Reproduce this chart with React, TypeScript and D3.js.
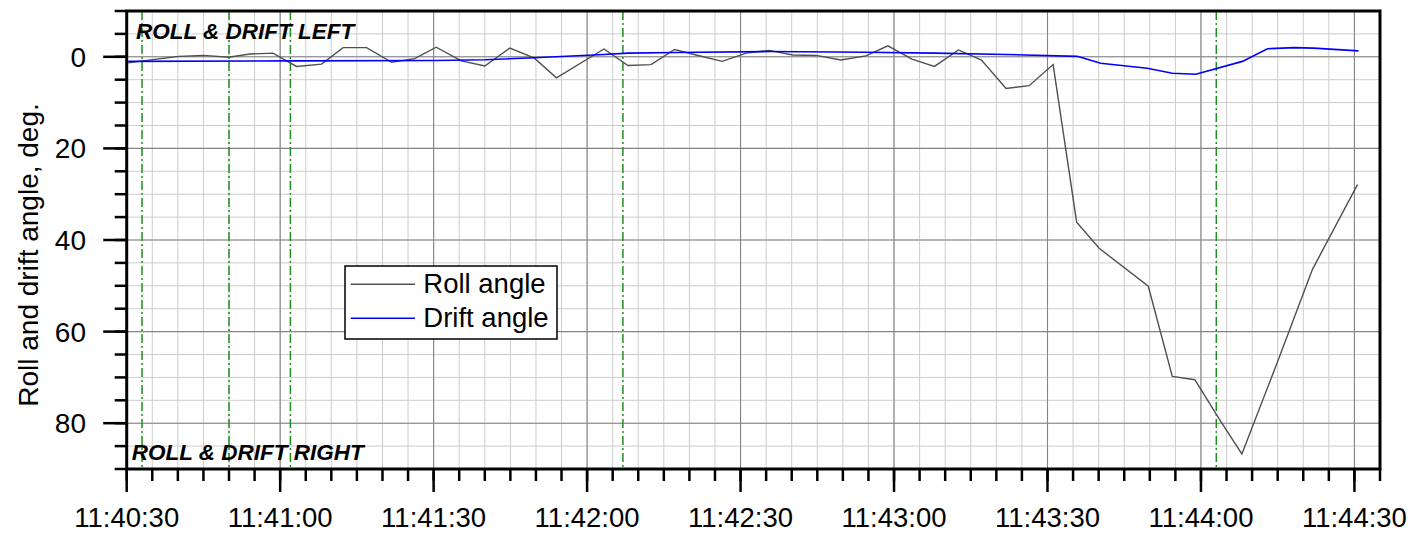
import React from "react";
import * as d3 from "d3";

// ---- data -------------------------------------------------------------
const startTime = "11:40:30";
const endTime = "11:44:35";

// Roll angle samples: seconds after 11:40:30, degrees (positive = right)
const rollSec = [
  0.3, 10.2, 15.0, 19.9, 24.1, 28.6, 33.2, 38.1, 42.3, 46.9, 51.8, 56.3, 60.5,
  65.4, 70.0, 74.9, 79.7, 84.0, 93.3, 98.0, 102.5, 107.1, 111.3, 116.4, 121.1,
  125.6, 130.2, 134.8, 139.6, 144.5, 148.8, 153.5, 157.9, 162.6, 167.1, 171.9,
  176.4, 181.1, 185.7, 190.1, 199.7, 204.4, 208.8, 213.8, 218.0, 224.9, 231.8,
  240.6,
];
const rollDeg = [
  1.3, -0.1, -0.3, 0.1, -0.6, -0.8, 2.1, 1.6, -2.0, -2.0, 1.2, 0.4, -2.1,
  0.9, 2.0, -1.9, 0.3, 4.6, -1.7, 1.9, 1.7, -1.6, -0.4, 1.0, -0.8,
  -1.4, -0.4, -0.3, 0.7, -0.2, -2.4, 0.5, 2.1, -1.5, 0.7, 6.9,
  6.3, 1.7, 36.1, 41.8, 50.1, 69.8, 70.5, 79.5, 86.7, 66.8, 46.4,
  27.9,
];

// Drift angle samples: seconds after 11:40:30, degrees
const driftSec = [
  0.3, 33.2, 60.5, 70.0, 79.7, 93.3, 98.0, 107.1, 125.6, 144.5, 157.9, 171.9,
  185.8, 190.4, 199.5, 204.4, 209.0, 218.1, 223.0, 228.2, 232.0, 240.8,
];
const driftDeg = [
  1.0, 0.9, 0.8, 0.65, 0.2, -0.5, -0.8, -0.95, -1.15, -1.0, -0.8, -0.5,
  -0.1, 1.4, 2.5, 3.6, 3.8, 1.0, -1.75, -2.0, -1.9, -1.3,
];

// Event markers (dash-dot verticals)
const eventTimes = ["11:40:33", "11:40:50", "11:41:02", "11:42:07", "11:44:03"];

const yDomain = [-10, 90];
const yMajorTicks = [0, 20, 40, 60, 80];
const yMinorStep = 5;
const xMajorStepSec = 30;
const xMinorStepSec = 5;

const seriesNames = ["Roll angle", "Drift angle"];
const yTitle = "Roll and drift angle, deg.";
const topNote = "ROLL & DRIFT LEFT";
const bottomNote = "ROLL & DRIFT RIGHT";

// ---- layout -----------------------------------------------------------
const W = 1413;
const H = 533;
const plotL = 126.7;
const plotR = 1380;
const plotT = 11;
const plotB = 469;
const FONT = "'Liberation Sans', Arial, Helvetica, sans-serif";

const parse = d3.timeParse("%H:%M:%S");
const fmt = d3.timeFormat("%H:%M:%S");
const t0 = parse(startTime) as Date;
const t1 = parse(endTime) as Date;
const at = (s: number) => new Date(t0.getTime() + s * 1000);

export default function App() {
  const x = d3.scaleTime().domain([t0, t1]).range([plotL, plotR]);
  const y = d3.scaleLinear().domain(yDomain).range([plotT, plotB]);

  const totalSec = (t1.getTime() - t0.getTime()) / 1000;
  const minorX = d3.range(0, totalSec + 0.001, xMinorStepSec).map(at);
  const majorX = d3.range(0, totalSec + 0.001, xMajorStepSec).map(at);
  const minorY = d3.range(yDomain[0], yDomain[1] + 0.001, yMinorStep);

  const line = d3
    .line<[number, number]>()
    .x((d) => x(at(d[0])))
    .y((d) => y(d[1]));

  const rollPts = rollSec.map((s, i) => [s, rollDeg[i]] as [number, number]);
  const driftPts = driftSec.map((s, i) => [s, driftDeg[i]] as [number, number]);

  const legX = 345;
  const legY = 266;

  return (
    <svg
      width={W}
      height={H}
      style={{ position: "absolute", left: 0, top: 0, background: "#fff" }}
      fontFamily={FONT}
    >
      <defs>
        <clipPath id="plotClip">
          <rect x={plotL} y={plotT} width={plotR - plotL} height={plotB - plotT} />
        </clipPath>
      </defs>

      {/* minor grid */}
      <g stroke="#cdcdcd" strokeWidth={1}>
        {minorX.map((d, i) => (
          <line key={"mx" + i} x1={x(d)} x2={x(d)} y1={plotT} y2={plotB} />
        ))}
        {minorY.map((v, i) => (
          <line key={"my" + i} x1={plotL} x2={plotR} y1={y(v)} y2={y(v)} />
        ))}
      </g>
      {/* major grid */}
      <g stroke="#858585" strokeWidth={1.1}>
        {majorX.map((d, i) => (
          <line key={"Mx" + i} x1={x(d)} x2={x(d)} y1={plotT} y2={plotB} />
        ))}
        {yMajorTicks.map((v, i) => (
          <line key={"My" + i} x1={plotL} x2={plotR} y1={y(v)} y2={y(v)} />
        ))}
      </g>

      {/* event markers */}
      <g stroke="#1f8f1f" strokeWidth={1.5} strokeDasharray="9,3,2,3">
        {eventTimes.map((t, i) => {
          const d = parse(t) as Date;
          return <line key={"ev" + i} x1={x(d)} x2={x(d)} y1={plotT} y2={plotB} />;
        })}
      </g>

      {/* series */}
      <g clipPath="url(#plotClip)" fill="none">
        <path d={line(rollPts) ?? ""} stroke="#505050" strokeWidth={1.4} strokeLinejoin="miter" />
        <path d={line(driftPts) ?? ""} stroke="#0000ff" strokeWidth={1.6} />
      </g>

      {/* notes */}
      <text x={136} y={39.3} fontSize={22.5} fontWeight="bold" fontStyle="italic" fill="#000">
        {topNote}
      </text>
      <text x={131.7} y={460} fontSize={22.5} fontWeight="bold" fontStyle="italic" fill="#000">
        {bottomNote}
      </text>

      {/* legend */}
      <g>
        <rect x={legX} y={legY} width={212} height={73} fill="#fff" stroke="#000" strokeWidth={1.5} />
        <line x1={legX + 5.7} x2={legX + 70} y1={legY + 18.3} y2={legY + 18.3} stroke="#505050" strokeWidth={1.4} />
        <line x1={legX + 5.7} x2={legX + 70} y1={legY + 52.3} y2={legY + 52.3} stroke="#0000ff" strokeWidth={1.6} />
        <text x={legX + 78.3} y={legY + 27.3} fontSize={27.5} fill="#000">
          {seriesNames[0]}
        </text>
        <text x={legX + 78.3} y={legY + 60.7} fontSize={27.5} fill="#000">
          {seriesNames[1]}
        </text>
      </g>

      {/* frame */}
      <rect
        x={plotL}
        y={plotT}
        width={plotR - plotL}
        height={plotB - plotT}
        fill="none"
        stroke="#000"
        strokeWidth={3}
      />

      {/* y axis ticks and labels */}
      <g stroke="#000" strokeWidth={2.5}>
        {minorY.map((v, i) => (
          <line key={"ymt" + i} x1={plotL - 12} x2={plotL} y1={y(v)} y2={y(v)} />
        ))}
        {yMajorTicks.map((v, i) => (
          <line key={"yMt" + i} x1={plotL - 23.5} x2={plotL} y1={y(v)} y2={y(v)} />
        ))}
      </g>
      <g fontSize={28} textAnchor="end" fill="#000">
        {yMajorTicks.map((v, i) => (
          <text key={"yl" + i} x={86} y={y(v)} dy="0.36em">
            {v}
          </text>
        ))}
      </g>

      {/* x axis ticks and labels */}
      <g stroke="#000" strokeWidth={2.5}>
        {minorX.map((d, i) => (
          <line key={"xmt" + i} x1={x(d)} x2={x(d)} y1={plotB} y2={plotB + 12} />
        ))}
        {majorX.map((d, i) => (
          <line key={"xMt" + i} x1={x(d)} x2={x(d)} y1={plotB} y2={plotB + 23} />
        ))}
      </g>
      <g fontSize={27.5} textAnchor="middle" fill="#000">
        {majorX.map((d, i) => (
          <text key={"xl" + i} x={x(d)} y={527}>
            {fmt(d)}
          </text>
        ))}
      </g>

      {/* y title */}
      <text
        transform={`translate(38,255) rotate(-90)`}
        textAnchor="middle"
        fontSize={28}
        fill="#000"
      >
        {yTitle}
      </text>
    </svg>
  );
}
